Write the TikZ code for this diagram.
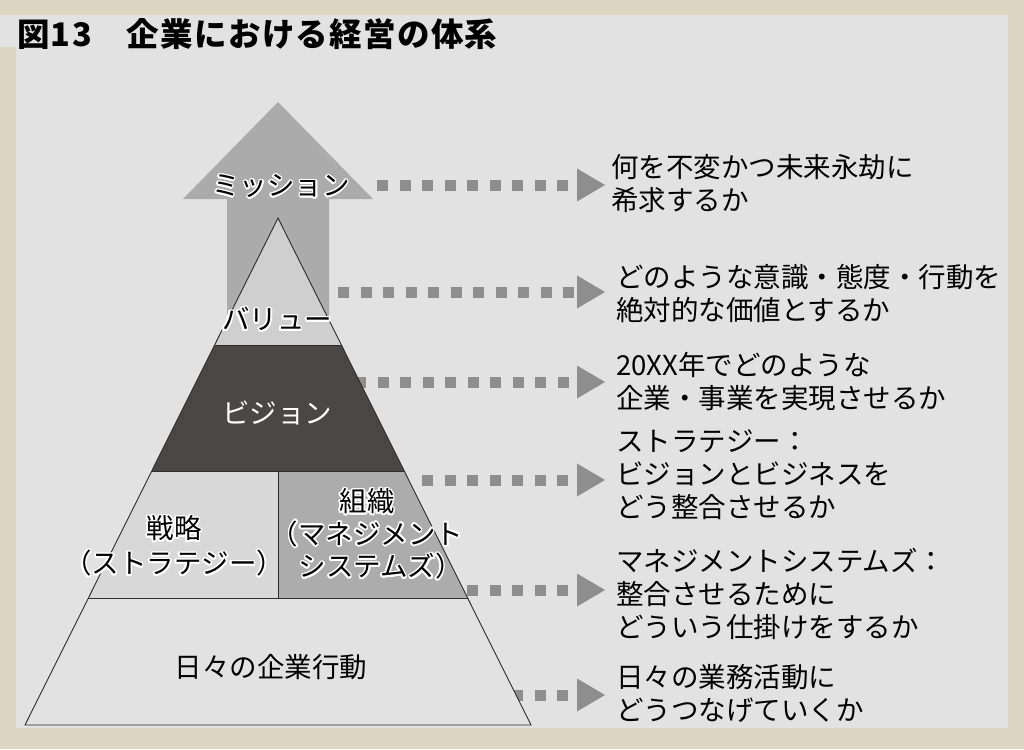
\documentclass[tikz,border=0pt]{standalone}
\usepackage{fontspec}
\usepackage{contour}
\setmainfont{Noto Sans CJK JP}
\usetikzlibrary{positioning, calc}
\definecolor{framebeige}{RGB}{221,213,193}
\definecolor{paper}{RGB}{226,226,226}
\definecolor{arrowgray}{RGB}{171,171,171}
\definecolor{valuegray}{RGB}{207,207,207}
\definecolor{visiondark}{RGB}{74,71,71}
\definecolor{strategygray}{RGB}{216,216,216}
\definecolor{orggray}{RGB}{172,172,172}
\definecolor{dotgray}{RGB}{142,142,142}
\definecolor{edgegray}{RGB}{45,45,45}
\contourlength{1.6pt}
\contournumber{16}
\newcommand{\halo}[1]{\contour{white}{#1}}

\begin{document}
\begin{tikzpicture}[x=1pt, y=-1pt,
    every node/.style={inner sep=0pt},
    txt/.style={font=\fontsize{27.5pt}{33pt}\selectfont, align=center},
    answer/.style={txt, align=left, anchor=west},
    dots/.style={draw=dotgray, line width=11pt, dash pattern=on 11pt off 11.5pt},
    edge/.style={draw=edgegray, line width=0.9pt}]
  \useasboundingbox (0,0) rectangle (1024,749);

  % FRAME
  \fill[framebeige] (0,0) rectangle (1024,749);
  \fill[paper] (16,15) rectangle (1008,728);
  \fill[paper] (0,15) rectangle (16,47);

  \node[anchor=west, font=\bfseries\fontsize{32.5pt}{36pt}\selectfont\addfontfeature{LetterSpace=4}]
    (title) at (17,34) {図13　企業における経営の体系};

  % MISSION ARROW
  \fill[arrowgray] (278,102) -- (373,199) -- (329,199) -- (329,335)
    -- (227,335) -- (227,199) -- (183,199) -- cycle;

  % ANSWERS
  \node[answer] (ans1) at (611,183.5) {何を不変かつ未来永劫に\\希求するか};
  \node[answer] (ans2) at (616,293.5) {どのような意識・態度・行動を\\絶対的な価値とするか};
  \node[answer] (ans3) at (616,381.5) {20XX年でどのような\\企業・事業を実現させるか};
  \node[answer] (ans4) at (616,475) {ストラテジー：\\ビジョンとビジネスを\\どう整合させるか};
  \node[answer] (ans5) at (616,594) {マネジメントシステムズ：\\整合させるために\\どういう仕掛けをするか};
  \node[answer] (ans6) at (616,693) {日々の業務活動に\\どうつなげていくか};

  % CONNECTORS
  \coordinate (tipline) at (605,0);
  \coordinate (s1) at (377,185);
  \coordinate (s2) at (338,292);
  \coordinate (s3) at (355,382);
  \coordinate (s4) at (422,480);
  \coordinate (s5) at (467,590);
  \coordinate (s6) at (512,695);
  \foreach \i in {1,...,6} {
    \coordinate (t\i) at (s\i -| tipline);
    \draw[dots] (s\i) -- ([xshift=-28pt]t\i);
    \fill[dotgray] (t\i) -- ++(-28,-16.5) -- ++(0,33) -- cycle;
  }

  % PYRAMID
  \coordinate (apex) at (278,218);
  \coordinate (bl) at (25,725);
  \coordinate (br) at (531,725);
  \begin{scope}
    \clip (apex) -- (bl) -- (br) -- cycle;
    \fill[valuegray] (0,200) rectangle (1024,345);
    \fill[visiondark] (0,345) rectangle (1024,471);
    \fill[strategygray] (0,471) rectangle (278,598);
    \fill[orggray] (278,471) rectangle (1024,598);
    \fill[paper] (0,598) rectangle (1024,725);
    \draw[edge] (0,345) -- (1024,345) (0,471) -- (1024,471)
      (0,598) -- (1024,598) (278,471) -- (278,598);
  \end{scope}
  \draw[edge] (apex) -- (bl) -- (br) -- cycle;

  % LAYERS
  \node[txt] (mission) at (281,187) {\halo{ミッション}};
  \node[txt] (value) at (277,320) {\halo{バリュー}};
  \node[txt, text=white] (vision) at (277,413) {ビジョン};
  \node[txt, font=\fontsize{27.5pt}{35pt}\selectfont] (strategy) at (174,547)
    {\halo{戦略}\\\halo{（ストラテジー）}};
  \node[txt, font=\fontsize{27.5pt}{32.5pt}\selectfont] (org) at (367,535)
    {\halo{組織}\\\halo{（マネジメント}\\\halo{　システムズ）}};
  \node[txt] (daily) at (271,667) {日々の企業行動};

\end{tikzpicture}
\end{document}
